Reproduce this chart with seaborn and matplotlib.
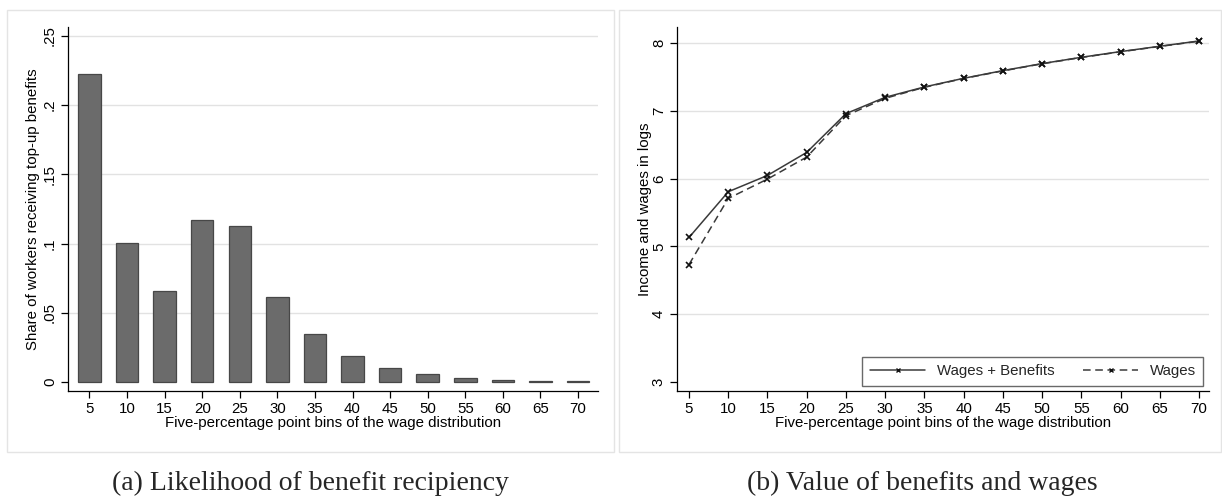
import numpy as np
import pandas as pd
import seaborn as sns
import matplotlib
matplotlib.use("Agg")
import matplotlib.pyplot as plt
from matplotlib.patches import Rectangle
from matplotlib.lines import Line2D

# Five-percentage point bins of the wage distribution
bins = [5, 10, 15, 20, 25, 30, 35, 40, 45, 50, 55, 60, 65, 70]

# Panel (a): share of workers receiving top-up benefits
share_topup = [0.2223, 0.1002, 0.0661, 0.1167, 0.1128, 0.0617, 0.0350,
               0.0190, 0.0104, 0.0060, 0.0031, 0.0017, 0.0010, 0.0005]

# Panel (b): log income (wages + benefits) and log wages
log_wages_benefits = [5.133, 5.808, 6.049, 6.389, 6.961, 7.202, 7.355,
                      7.483, 7.596, 7.700, 7.793, 7.877, 7.956, 8.034]
log_wages = [4.734, 5.709, 5.995, 6.320, 6.931, 7.187, 7.350,
             7.480, 7.592, 7.697, 7.790, 7.874, 7.953, 8.030]

share_ticks = [0, 0.05, 0.1, 0.15, 0.2, 0.25]
share_ticklabels = ["0", ".05", ".1", ".15", ".2", ".25"]
log_ticks = [3, 4, 5, 6, 7, 8]

xlabel = "Five-percentage point bins of the wage distribution"
caption_a = "(a) Likelihood of benefit recipiency"
caption_b = "(b) Value of benefits and wages"

sns.set_theme(style="white")
plt.rcParams["font.family"] = ["Liberation Sans", "DejaVu Sans"]

W, H = 1222, 496
fig = plt.figure(figsize=(W / 100, H / 100), dpi=100)


def frac_box(x0, y0, x1, y1):
    """Pixel box (top-left origin) to figure-fraction axes rect."""
    return [x0 / W, 1 - y1 / H, (x1 - x0) / W, (y1 - y0) / H]


# Light outlines around each graph region
for (x0, y0, x1, y1) in [(7, 10, 614, 452), (619, 10, 1221, 452)]:
    fig.patches.append(Rectangle((x0 / W, 1 - y1 / H), (x1 - x0) / W, (y1 - y0) / H,
                                 transform=fig.transFigure, fill=False,
                                 edgecolor="#e4e4e4", linewidth=1.0))

tick_fs = 10.8
label_fs = 10.8
grid_col = "#e2e2e2"


def style_axes(ax):
    for s in ["top", "right"]:
        ax.spines[s].set_visible(False)
    for s in ["left", "bottom"]:
        ax.spines[s].set_color("black")
        ax.spines[s].set_linewidth(0.9)
    ax.tick_params(axis="both", which="major", direction="out", length=5,
                   width=0.9, color="black", labelsize=tick_fs, pad=3,
                   left=True, bottom=True, labelcolor="black")
    ax.grid(False)


# ---- Panel (a): bar chart ----
ax1 = fig.add_axes(frac_box(68, 27, 598, 391))
df_a = pd.DataFrame({"bin": bins, "share": share_topup})
sns.barplot(data=df_a, x="bin", y="share", ax=ax1, color="#6b6b6b",
            width=0.6, edgecolor="#474747", linewidth=0.9, saturation=1)
for yv in share_ticks[1:]:
    ax1.axhline(yv, color=grid_col, linewidth=1.0, zorder=0)
ax1.set_xlim(-0.57, 13.53)
ax1.set_ylim(-0.0065, 0.2565)
style_axes(ax1)
ax1.set_yticks(share_ticks)
ax1.set_yticklabels(share_ticklabels, rotation=90, va="center")
ax1.set_xlabel(xlabel, fontsize=label_fs, labelpad=0, color="black")
ax1.set_ylabel("Share of workers receiving top-up benefits", fontsize=label_fs,
               labelpad=2, color="black")
ax1.set_axisbelow(True)

# ---- Panel (b): line chart ----
ax2 = fig.add_axes(frac_box(677, 27, 1209, 391))
df_b = pd.DataFrame({
    "bin": bins * 2,
    "value": log_wages_benefits + log_wages,
    "series": ["Wages + Benefits"] * len(bins) + ["Wages"] * len(bins),
})
for yv in log_ticks[1:]:
    ax2.axhline(yv, color=grid_col, linewidth=1.0, zorder=0)
sns.lineplot(data=df_b, x="bin", y="value", style="series",
             dashes={"Wages + Benefits": "", "Wages": (5, 3)},
             markers={"Wages + Benefits": "x", "Wages": "x"},
             color="#3a3a3a", linewidth=1.1, markersize=4,
             markeredgewidth=1.2, markeredgecolor="#111111",
             ax=ax2, legend=False, zorder=3)
ax2.set_xlim(3.47, 71.27)
ax2.set_ylim(2.867, 8.24)
style_axes(ax2)
ax2.set_xticks(bins)
ax2.set_yticks(log_ticks)
ax2.set_yticklabels([str(t) for t in log_ticks], rotation=90, va="center")
ax2.set_xlabel(xlabel, fontsize=label_fs, labelpad=0, color="black")
ax2.set_ylabel("Income and wages in logs", fontsize=label_fs, labelpad=0,
               color="black")

handles = [
    Line2D([0, 0.5, 1], [0, 0, 0], color="#3a3a3a", linewidth=1.1,
           linestyle="-", marker="x", markersize=3, markeredgecolor="#111111",
           markevery=[1], label="Wages + Benefits"),
    Line2D([0, 0.5, 1], [0, 0, 0], color="#3a3a3a", linewidth=1.1,
           linestyle=(0, (5, 3)), marker="x", markersize=3,
           markeredgecolor="#111111", markevery=[1], label="Wages"),
]
leg = ax2.legend(handles=handles, ncol=2, loc="lower right",
                 bbox_to_anchor=(0.989, 0.014), borderaxespad=0,
                 fontsize=10.8, frameon=True, fancybox=False,
                 edgecolor="#444444", handlelength=3.7, columnspacing=1.9,
                 handletextpad=0.75, borderpad=0.5)
leg.get_frame().set_linewidth(1.0)

# Captions under each graph
serif = ["Liberation Serif", "DejaVu Serif"]
fig.text(310 / W, 1 - 490 / H, caption_a, ha="center", va="baseline",
         fontsize=20, family=serif)
fig.text(922 / W, 1 - 490 / H, caption_b, ha="center", va="baseline",
         fontsize=20, family=serif)

fig.savefig("out.png", dpi=100)
